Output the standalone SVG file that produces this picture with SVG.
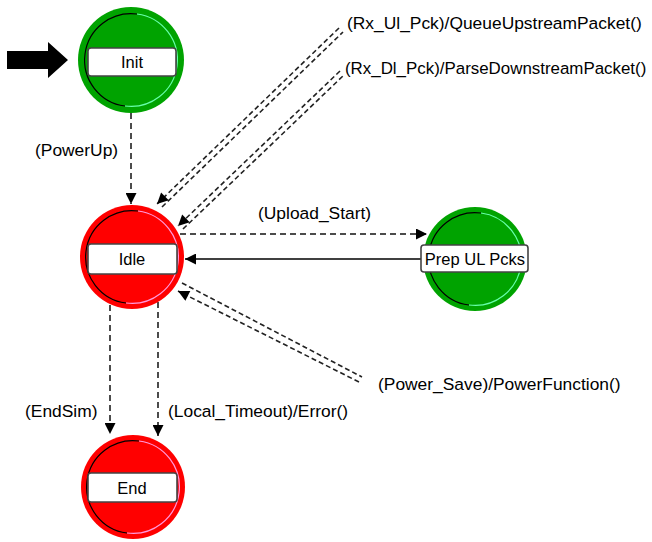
<svg xmlns="http://www.w3.org/2000/svg" width="652" height="542" viewBox="0 0 652 542">
<defs>
<style>
text{font-family:"Liberation Sans",Arial,sans-serif;font-size:17.4px;fill:#000}
.lbl{font-size:16.5px;text-anchor:middle}
.green{fill:#00a300}
.red{fill:#ff0000}
.ringL{fill:none;stroke:#000;stroke-width:1.2}
.ringRg{fill:none;stroke:#66ffaa;stroke-width:1.2}
.ringRr{fill:none;stroke:#ff99dd;stroke-width:1.2}
.box{fill:#fff;stroke:#444;stroke-width:1.6}
.dash{fill:none;stroke:#111;stroke-width:1.5;stroke-dasharray:6 4}
.loop{fill:none;stroke:#222;stroke-width:1.6;stroke-dasharray:5 3}
.solid{fill:none;stroke:#000;stroke-width:1.5}
</style>
<marker id="ah" viewBox="0 0 10 10" refX="10" refY="5" markerWidth="13" markerHeight="11" markerUnits="userSpaceOnUse" orient="auto">
<path d="M0,0 L10,5 L0,10 z" fill="#000"/>
</marker>
</defs>
<rect width="652" height="542" fill="#fff"/>
<polygon points="7,51 48,51 48,42 68,60 48,78 48,69 7,69" fill="#000"/>
<g id="connectors">
<line class="dash" x1="131" y1="113" x2="131" y2="204" marker-end="url(#ah)"/>
<line class="loop" x1="162" y1="207" x2="343" y2="32"/>
<line class="loop" x1="339" y1="28" x2="157" y2="204" marker-end="url(#ah)"/>
<line class="loop" x1="183" y1="229" x2="344" y2="75"/>
<line class="loop" x1="340" y1="71" x2="178" y2="226" marker-end="url(#ah)"/>
<line class="dash" x1="180" y1="234" x2="427" y2="234" marker-end="url(#ah)"/>
<line class="solid" x1="421" y1="259" x2="185" y2="259" marker-end="url(#ah)"/>
<line class="loop" x1="182" y1="283" x2="362" y2="377"/>
<line class="loop" x1="359" y1="382" x2="178" y2="291" marker-end="url(#ah)"/>
<line class="dash" x1="110" y1="305" x2="110" y2="434" marker-end="url(#ah)"/>
<line class="dash" x1="158" y1="302" x2="158" y2="436" marker-end="url(#ah)"/>
<text x="35" y="156">(PowerUp)</text>
<text x="347" y="29">(Rx_Ul_Pck)/QueueUpstreamPacket()</text>
<text x="345" y="74" style="font-size:16.9px">(Rx_Dl_Pck)/ParseDownstreamPacket()</text>
<text x="258" y="219">(Upload_Start)</text>
<text x="378" y="390">(Power_Save)/PowerFunction()</text>
<text x="25" y="417">(EndSim)</text>
<text x="168" y="417">(Local_Timeout)/Error()</text>
</g>
<g id="init">
<circle class="green" cx="131" cy="60" r="53"/>
<path class="ringL" d="M137,14 A46,46 0 0 0 125,106"/>
<path class="ringRg" d="M137,14 A46,46 0 0 1 125,106"/>
<rect class="box" x="88" y="48" width="88" height="28" rx="3"/>
<text class="lbl" x="132" y="68">Init</text>
</g>
<g id="idle">
<circle class="red" cx="132" cy="257" r="52"/>
<path class="ringL" d="M138,211 A46,46 0 0 0 126,303"/>
<path class="ringRr" d="M138,211 A46,46 0 0 1 126,303"/>
<rect class="box" x="88" y="244" width="89" height="30" rx="3"/>
<text class="lbl" x="132" y="265">Idle</text>
</g>
<g id="prep">
<circle class="green" cx="475" cy="259" r="52"/>
<path class="ringL" d="M481,213 A46,46 0 0 0 469,305"/>
<path class="ringRg" d="M481,213 A46,46 0 0 1 469,305"/>
<rect class="box" x="421" y="245" width="107" height="27" rx="3"/>
<text class="lbl" x="475" y="265">Prep UL Pcks</text>
</g>
<g id="end">
<circle class="red" cx="133" cy="487" r="52"/>
<path class="ringL" d="M139,441 A46,46 0 0 0 127,533"/>
<path class="ringRr" d="M139,441 A46,46 0 0 1 127,533"/>
<rect class="box" x="88" y="473" width="89" height="29" rx="3"/>
<text class="lbl" x="132" y="494">End</text>
</g>
</svg>
